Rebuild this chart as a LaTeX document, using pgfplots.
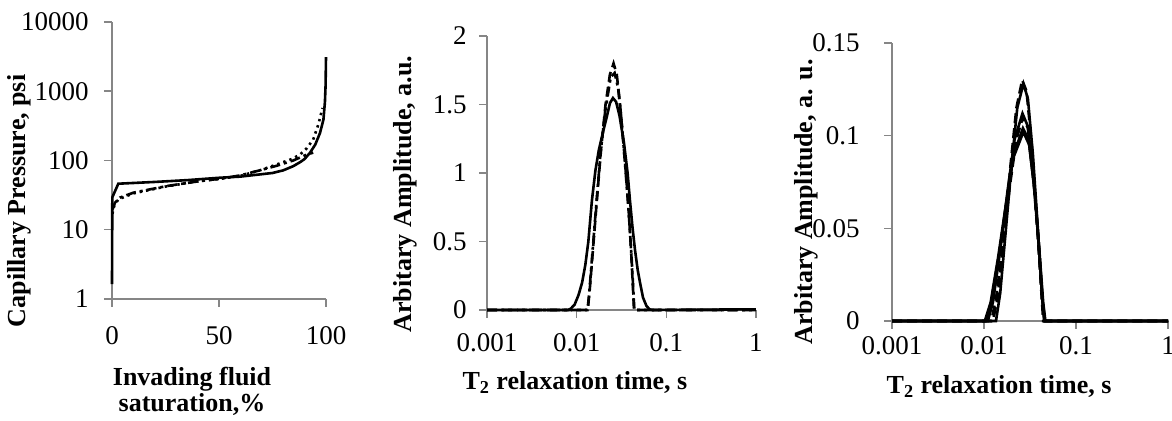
\documentclass[border=0pt]{standalone}
\usepackage{fontspec}
\setmainfont{Liberation Serif}
\usepackage{pgfplots}
\pgfplotsset{compat=1.18}
\definecolor{axgray}{RGB}{134,134,134}
\pgfplotsset{
  excel/.style={
    scale only axis,
    anchor=south west,
    axis x line*=bottom,
    axis y line*=left,
    axis line style={draw=axgray, line width=0.75pt, -},
    tick align=outside,
    major tick length=4pt,
    minor tick length=0pt,
    tick style={draw=axgray, line width=0.75pt},
    tick label style={font=\fontsize{13.5}{15}\selectfont},
    /pgf/number format/assume math mode=true,
    label style={font=\fontsize{13}{13}\selectfont\bfseries},
    clip=false,
  },
  sl/.style={black, line width=1.3pt, no markers, solid},
  dd/.style={black, line width=1.3pt, no markers, dash pattern=on 5pt off 2pt on 1.5pt off 2pt},
  ds/.style={black, line width=1.3pt, no markers, dash pattern=on 5pt off 2.5pt},
  dt/.style={black, line width=1.3pt, no markers, dash pattern=on 1.2pt off 2pt},
}
\begin{document}
\begin{tikzpicture}
\path[use as bounding box] (0,0) rectangle (586pt,210.5pt);
% ---------------- Panel 1
\begin{axis}[excel,
  at={(56pt,61pt)}, width=107pt, height=138.5pt,
  xmin=0, xmax=100, ymode=log, ymin=1, ymax=10000,
  xtick={0,50,100}, xticklabels={0,50,100},
  ytick={1,10,100,1000,10000}, yticklabels={1,10,100,1000,10000},
  yticklabel style={anchor=east, inner sep=0pt, xshift=-7.5pt},
  xticklabel style={anchor=north, inner sep=0pt, yshift=-9.5pt},
  xlabel={Invading fluid\\saturation,\%},
  xlabel style={align=center, at={(axis description cs:0.374,0)}, anchor=north, inner sep=0pt, yshift=-34pt},
  ylabel={Capillary Pressure, psi},
  ylabel style={at={(axis description cs:-0.435,0.354)}, anchor=center, inner sep=0pt},
]
\addplot[sl] coordinates {(0,1.64) (0.15,29.4) (2.95,46.2) (20,49) (35,52) (50.5,56.4) (60,58.5) (69.2,63) (75,66) (80,72) (84.7,82.8) (88,95) (90,105) (92.5,129) (95,170) (97.2,250) (98.8,389) (99.5,700) (99.8,1200) (100,3100)};
\addplot[dd] coordinates {(0.3,19.7) (1.4,24.6) (3.7,29.1) (10,34.3) (25.5,42.7) (41,50.4) (50.5,54.5) (60,61) (69,72) (77,84) (84.7,100) (90,118) (94,130)};
\addplot[dt] coordinates {(0.2,17) (1,22) (3,27.5) (10,33.5) (25,42) (40,50) (50,54) (60,60) (69,72) (77,87.6) (84,105) (87.9,122) (91,150) (94,200) (96.4,330) (98.4,573)};
\end{axis}
% ---------------- Panel 2
\begin{axis}[excel,
  at={(243.5pt,55.5pt)}, width=134.5pt, height=137pt,
  xmode=log, xmin=0.001, xmax=1, ymin=0, ymax=2,
  xtick={0.001,0.01,0.1,1}, xticklabels={0.001,0.01,0.1,1},
  ytick={0,0.5,1,1.5,2}, yticklabels={0,0.5,1,1.5,2},
  yticklabel style={anchor=east, inner sep=0pt, xshift=-6pt},
  xticklabel style={anchor=north, inner sep=0pt, yshift=-7.5pt},
  xlabel={T\textsubscript{2} relaxation time, s},
  xlabel style={at={(axis description cs:0.327,0)}, anchor=north, inner sep=0pt, yshift=-30.5pt},
  ylabel={Arbitary Amplitude, a.u.},
  ylabel style={at={(axis description cs:-0.305,0.423)}, anchor=center, inner sep=0pt},
]
\addplot[sl] coordinates {(0.001,0) (0.0080,0) (0.0086,0.01) (0.0095,0.04) (0.0105,0.11) (0.0115,0.20) (0.0125,0.33) (0.0135,0.50) (0.0148,0.80) (0.0162,1.02) (0.0177,1.17) (0.0197,1.30) (0.0215,1.40) (0.0235,1.51) (0.0254,1.547) (0.0275,1.52) (0.0300,1.42) (0.0337,1.22) (0.0370,1.00) (0.0393,0.80) (0.0420,0.60) (0.0447,0.44) (0.0480,0.29) (0.0509,0.20) (0.0550,0.09) (0.0600,0.03) (0.0650,0.005) (0.0700,0) (1,0.005)};
\addplot[ds] coordinates {(0.001,0) (0.0133,0) (0.0140,0.15) (0.0152,0.44) (0.0168,0.80) (0.0187,1.17) (0.0210,1.50) (0.0235,1.72) (0.0258,1.80) (0.0280,1.72) (0.0305,1.50) (0.0337,1.17) (0.0374,0.80) (0.0404,0.44) (0.0425,0.15) (0.0436,0) (1,0)};
\addplot[dd] coordinates {(0.001,0) (0.0132,0) (0.0138,0.12) (0.0150,0.42) (0.0166,0.78) (0.0185,1.15) (0.0208,1.45) (0.0240,1.70) (0.0265,1.73) (0.0290,1.62) (0.0315,1.40) (0.0345,1.08) (0.0380,0.72) (0.0410,0.38) (0.0432,0.10) (0.0440,0) (1,0)};
\end{axis}
% ---------------- Panel 3
\begin{axis}[excel,
  at={(446pt,50pt)}, width=138pt, height=139pt,
  xmode=log, xmin=0.001, xmax=1, ymin=0, ymax=0.15,
  xtick={0.001,0.01,0.1,1}, xticklabels={0.001,0.01,0.1,1},
  ytick={0,0.05,0.1,0.15}, yticklabels={0,0.05,0.1,0.15},
  yticklabel style={anchor=east, inner sep=0pt, xshift=-12pt},
  xticklabel style={anchor=north, inner sep=0pt, yshift=-3.5pt},
  xlabel={T\textsubscript{2} relaxation time, s},
  xlabel style={at={(axis description cs:0.388,0)}, anchor=north, inner sep=0pt, yshift=-27pt},
  ylabel={Arbitary Amplitude, a. u.},
  ylabel style={at={(axis description cs:-0.312,0.428)}, anchor=center, inner sep=0pt},
]
\addplot[ds] coordinates {(0.001,0) (0.0125,0) (0.0140,0.012) (0.0165,0.045) (0.0195,0.085) (0.0225,0.115) (0.0260,0.130) (0.0290,0.124) (0.0330,0.095) (0.0375,0.055) (0.0415,0.02) (0.0440,0) (1,0)};
\addplot[sl] coordinates {(0.001,0) (0.0135,0) (0.0150,0.015) (0.0172,0.048) (0.0200,0.085) (0.0230,0.115) (0.0268,0.128) (0.0300,0.120) (0.0340,0.090) (0.0385,0.050) (0.0425,0.015) (0.0450,0) (1,0)};
\addplot[sl] coordinates {(0.001,0) (0.0110,0) (0.0125,0.01) (0.0150,0.038) (0.0180,0.070) (0.0215,0.098) (0.0262,0.112) (0.0300,0.105) (0.0345,0.078) (0.0390,0.045) (0.0430,0.012) (0.0455,0) (1,0)};
\addplot[ds] coordinates {(0.001,0) (0.0120,0) (0.0135,0.012) (0.0160,0.040) (0.0190,0.072) (0.0225,0.098) (0.0265,0.110) (0.0300,0.104) (0.0340,0.080) (0.0385,0.046) (0.0425,0.014) (0.0450,0) (1,0)};
\addplot[sl] coordinates {(0.001,0) (0.0105,0) (0.0120,0.01) (0.0145,0.035) (0.0175,0.063) (0.0210,0.090) (0.0265,0.104) (0.0305,0.098) (0.0350,0.073) (0.0395,0.040) (0.0435,0.010) (0.0460,0) (1,0)};
\addplot[sl] coordinates {(0.001,0) (0.0102,0) (0.0118,0.01) (0.0142,0.034) (0.0172,0.062) (0.0208,0.088) (0.0268,0.102) (0.0310,0.095) (0.0355,0.070) (0.0400,0.038) (0.0440,0.010) (0.0465,0) (1,0)};
\end{axis}
\end{tikzpicture}
\end{document}
